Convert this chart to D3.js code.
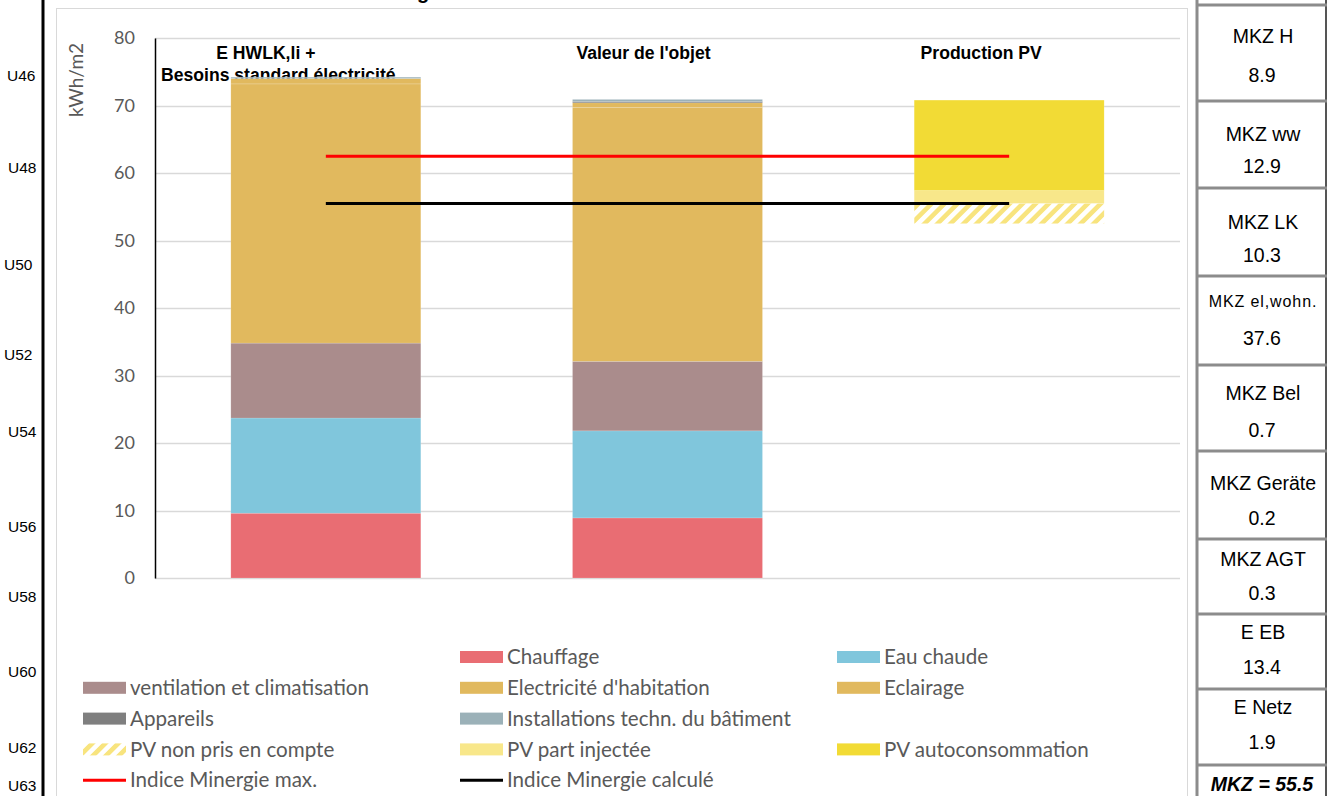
<!DOCTYPE html>
<html><head><meta charset="utf-8">
<script src="https://cdn.jsdelivr.net/npm/d3@7"></script>
<style>body{margin:0;background:#fff;} svg{display:block;}</style>
</head><body><svg id="c" width="1327" height="796"></svg>
<script>
// ---------------- data ----------------
const categories = ["E HWLK,li + Besoins standard électricité", "Valeur de l'objet", "Production PV"];
const categoryLines = [["E HWLK,li +", "Besoins standard électricité"], ["Valeur de l'objet"], ["Production PV"]];
const pvOffset      = [0, 0, 52.5];   // invisible base of the PV column
const chauffage     = [9.6, 8.9, 0];
const eauChaude     = [14.1, 12.9, 0];
const ventilation   = [11.1, 10.3, 0];
const electricite   = [38.4, 37.6, 0];
const eclairage     = [0.8, 0.7, 0];
const appareils     = [0.0, 0.2, 0];
const installations = [0.2, 0.3, 0];
const pvNonPris     = [0, 0, 3.0];
const pvInjectee    = [0, 0, 1.9];
const pvAuto        = [0, 0, 13.4];
const indiceMax   = 62.5;
const indiceCalc  = 55.5;
const yTicks = [0, 10, 20, 30, 40, 50, 60, 70, 80];
const rowLabels = ["U46", "U48", "U50", "U52", "U54", "U56", "U58", "U60", "U62", "U63"];
const panelLabels = ["MKZ H", "MKZ ww", "MKZ LK", "MKZ el,wohn.", "MKZ Bel", "MKZ Geräte", "MKZ AGT", "E EB", "E Netz"];
const panelValues = ["8.9", "12.9", "10.3", "37.6", "0.7", "0.2", "0.3", "13.4", "1.9"];
const panelTotal = "MKZ = 55.5";

// ---------------- series definitions ----------------
const series = [
  {name: null, values: pvOffset, fill: "none"},
  {name: "Chauffage", values: chauffage, fill: "#e96d73"},
  {name: "Eau chaude", values: eauChaude, fill: "#80c6dc"},
  {name: "ventilation et climatisation", values: ventilation, fill: "#aa8c8c"},
  {name: "Electricité d'habitation", values: electricite, fill: "#e1b95e"},
  {name: "Eclairage", values: eclairage, fill: "#e1b95e"},
  {name: "Appareils", values: appareils, fill: "#7f7f7f"},
  {name: "Installations techn. du bâtiment", values: installations, fill: "#9bb1b8"},
  {name: null, values: [0, 0, 0], fill: "none"},
  {name: "PV non pris en compte", values: pvNonPris, fill: "url(#hatch)"},
  {name: "PV part injectée", values: pvInjectee, fill: "#f8e78a"},
  {name: "PV autoconsommation", values: pvAuto, fill: "#f2db35"},
  {name: "Indice Minergie max.", line: indiceMax, stroke: "#ff0000"},
  {name: "Indice Minergie calculé", line: indiceCalc, stroke: "#000000"}
];

// ---------------- layout ----------------
const svg = d3.select("#c");
const W = 1327, H = 796;
const plot = {left: 155, right: 1180, top: 38, bottom: 578};
const FONT_C = "Lato, 'Open Sans', sans-serif";
const FONT_A = "'Liberation Sans', Arial, sans-serif";

const defs = svg.append("defs");
const pat = defs.append("pattern").attr("id", "hatch").attr("patternUnits", "userSpaceOnUse")
  .attr("width", 9.2).attr("height", 9.2).attr("patternTransform", "rotate(45)");
pat.append("rect").attr("width", 9.2).attr("height", 9.2).attr("fill", "#fff");
pat.append("rect").attr("width", 4.6).attr("height", 9.2).attr("fill", "#f8e47e");

// chart frame
svg.append("rect").attr("x", 56.5).attr("y", 8.5).attr("width", 1131).attr("height", 800)
  .attr("fill", "#fff").attr("stroke", "#d9d9d9").attr("stroke-width", 1);

// title (clipped at the top edge, as in the source)
svg.append("text").attr("x", 446).attr("y", -1).attr("text-anchor", "end")
  .attr("font-family", FONT_A).attr("font-weight", "bold").attr("font-size", 20)
  .attr("fill", "#000").text("Indice Minergie");

// left spreadsheet row labels and black border
svg.append("line").attr("x1", 43).attr("x2", 43).attr("y1", 0).attr("y2", H)
  .attr("stroke", "#000").attr("stroke-width", 3);
const rowY = [76, 168, 265, 355, 432, 527, 597, 672, 748, 786];
const rowX = [7, 8, 4, 4, 8, 8, 8, 8, 8, 8];
svg.append("g").selectAll("text").data(rowLabels).join("text")
  .attr("x", (d, i) => rowX[i]).attr("y", (d, i) => rowY[i]).attr("dy", "0.35em")
  .attr("font-family", FONT_A).attr("font-size", 15.5).attr("fill", "#000").text(d => d);

// scales
const x = d3.scaleBand().domain(categories).range([plot.left, plot.right])
  .paddingInner(0.444).paddingOuter(0.222);
const y = d3.scaleLinear().domain([0, 80]).range([plot.bottom, plot.top]);

// gridlines
svg.append("g").selectAll("line").data(yTicks).join("line")
  .attr("x1", plot.left).attr("x2", plot.right)
  .attr("y1", d => Math.round(y(d)) + 0.5).attr("y2", d => Math.round(y(d)) + 0.5)
  .attr("stroke", "#d9d9d9").attr("stroke-width", 1.5);

// y axis
const yAxis = d3.axisLeft(y).tickValues(yTicks).tickSize(0).tickPadding(20);
const gy = svg.append("g").attr("transform", `translate(${plot.left},0)`).call(yAxis);
gy.select(".domain").attr("stroke", "#000").attr("stroke-width", 1.5);
gy.selectAll("text").attr("font-family", FONT_C).attr("font-size", 18).attr("fill", "#595959");

svg.append("text").attr("transform", `translate(76,${(42 + 118) / 2}) rotate(-90)`)
  .attr("text-anchor", "middle").attr("dy", "0.35em")
  .attr("font-family", FONT_C).attr("font-size", 19).attr("fill", "#595959").text("kWh/m2");

// category labels (drawn under the bars)
const labelCenters = [[-60, -47.5], [-24], [-28]];
const lab = svg.append("g");
categoryLines.forEach((lines, i) => {
  lines.forEach((t, j) => {
    lab.append("text")
      .attr("x", x(categories[i]) + x.bandwidth() / 2 + labelCenters[i][j])
      .attr("y", 52.5 + j * 22).attr("dy", "0.35em").attr("text-anchor", "middle")
      .attr("font-family", FONT_A).attr("font-weight", "bold").attr("font-size", 17.6).attr("fill", "#000")
      .text(t);
  });
});

// stacked bars
const barSeries = series.filter(s => s.values);
const table = categories.map((c, i) => {
  const row = {cat: c};
  barSeries.forEach((s, k) => row["s" + k] = s.values[i]);
  return row;
});
const stack = d3.stack().keys(barSeries.map((s, k) => "s" + k))(table);
svg.append("g").selectAll("g").data(stack).join("g")
  .attr("fill", (d, k) => barSeries[k].fill)
  .selectAll("rect").data(d => d).join("rect")
  .attr("x", d => x(d.data.cat)).attr("width", x.bandwidth())
  .attr("y", d => y(d[1])).attr("height", d => Math.max(0, y(d[0]) - y(d[1])))
  .attr("stroke", (d, i, n) => d3.select(n[i].parentNode).attr("fill") === "none" ? "none" : "rgba(255,255,255,0.25)")
  .attr("stroke-width", 0.6);

// index lines
const lineSeries = series.filter(s => s.line !== undefined);
const c0 = x(categories[0]) + x.bandwidth() / 2, c2 = x(categories[2]) + x.bandwidth() / 2;
svg.append("g").selectAll("line").data(lineSeries).join("line")
  .attr("x1", c0).attr("x2", c2).attr("y1", d => y(d.line)).attr("y2", d => y(d.line))
  .attr("stroke", d => d.stroke).attr("stroke-width", 3);

// legend
const leg = svg.append("g");
const legX = [83, 460, 837], legY0 = 657, legDy = 30.8;
series.forEach((s, i) => {
  if (!s.name) return;
  const cx = legX[i % 3], cy = legY0 + Math.floor(i / 3) * legDy;
  const g = leg.append("g").attr("transform", `translate(${cx},${cy})`);
  if (s.line !== undefined) {
    g.append("line").attr("x1", 0).attr("x2", 43).attr("y1", 0).attr("y2", 0)
      .attr("stroke", s.stroke).attr("stroke-width", 3);
  } else {
    g.append("rect").attr("x", 0).attr("y", -6).attr("width", 43).attr("height", 12).attr("fill", s.fill);
  }
  g.append("text").attr("x", 47).attr("dy", "0.35em")
    .attr("font-family", FONT_C).attr("font-size", 20.6).attr("fill", "#595959").text(s.name);
});

// right panel
const panel = svg.append("g");
const px0 = 1197, px1 = 1326;
const boxTops = [5, 101, 188, 276, 365, 451, 539, 614, 689, 765];
const labOff = [31, 33, 34, 25, 28, 32, 20, 18, 18];
const valOff = [70, 65, 67, 62, 65, 67, 54, 53, 53];
panel.append("line").attr("x1", px0).attr("x2", px0).attr("y1", 0).attr("y2", H).attr("stroke", "#8c8c8c").attr("stroke-width", 3);
panel.append("line").attr("x1", px1).attr("x2", px1).attr("y1", 0).attr("y2", H).attr("stroke", "#555").attr("stroke-width", 2);
panel.selectAll("line.h").data(boxTops).join("line").attr("class", "h")
  .attr("x1", px0).attr("x2", px1 + 1).attr("y1", d => d).attr("y2", d => d)
  .attr("stroke", "#8c8c8c").attr("stroke-width", 3);
panelLabels.forEach((t, i) => {
  const small = t === "MKZ el,wohn.";
  panel.append("text").attr("x", 1263).attr("y", boxTops[i] + labOff[i]).attr("dy", "0.35em")
    .attr("text-anchor", "middle").attr("font-family", FONT_A)
    .attr("font-size", small ? 16 : 19.5).attr("letter-spacing", small ? 0.9 : 0)
    .attr("fill", "#000").text(t);
  panel.append("text").attr("x", 1262).attr("y", boxTops[i] + valOff[i]).attr("dy", "0.35em")
    .attr("text-anchor", "middle").attr("font-family", FONT_A).attr("font-size", 19.5).attr("fill", "#000")
    .text(panelValues[i]);
});
panel.append("text").attr("x", 1262).attr("y", boxTops[9] + 19).attr("dy", "0.35em")
  .attr("text-anchor", "middle").attr("font-family", FONT_A).attr("font-weight", "bold")
  .attr("font-style", "italic").attr("font-size", 19.5).attr("fill", "#000").text(panelTotal);
</script></body></html>
